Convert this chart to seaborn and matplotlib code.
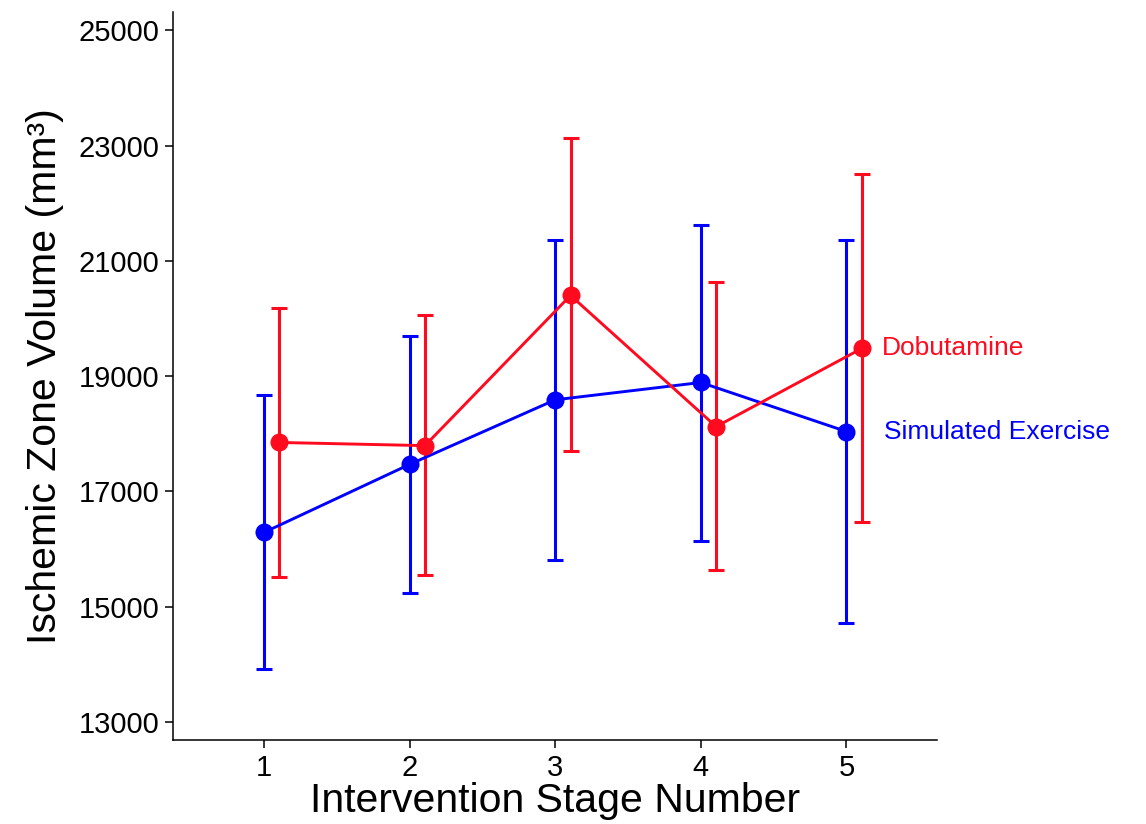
import matplotlib
matplotlib.use("Agg")
import matplotlib.pyplot as plt
import seaborn as sns
import pandas as pd
import numpy as np

stages = [1, 2, 3, 4, 5]

exercise_mean = [16290, 17470, 18590, 18890, 18040]
exercise_low = [13915, 15235, 15810, 16145, 14710]
exercise_high = [18670, 19700, 21360, 21630, 21370]

dobutamine_mean = [17850, 17795, 20400, 18125, 19480]
dobutamine_low = [15510, 15545, 17700, 15630, 16465]
dobutamine_high = [20190, 20055, 23130, 20630, 22515]

series_names = ["Simulated Exercise", "Dobutamine"]
yticks = [13000, 15000, 17000, 19000, 21000, 23000, 25000]

BLUE = "#0000ff"
RED = "#ff0a1e"

sns.set_theme(style="ticks")
plt.rcParams['font.family'] = ['Liberation Sans', 'DejaVu Sans']

fig = plt.figure(figsize=(11.46, 8.24), dpi=100)
ax = fig.add_axes([0.151, 0.102, 0.667, 0.883])

offsets = {"Simulated Exercise": 0.0, "Dobutamine": 0.105}
colors = {"Simulated Exercise": BLUE, "Dobutamine": RED}
data = {
    "Simulated Exercise": (exercise_mean, exercise_low, exercise_high),
    "Dobutamine": (dobutamine_mean, dobutamine_low, dobutamine_high),
}

for name in series_names:
    mean, low, high = data[name]
    df = pd.DataFrame({"x": np.array(stages) + offsets[name], "y": mean,
                       "low": low, "high": high})
    col = colors[name]
    ax.errorbar(df["x"], df["y"],
                yerr=[df["y"] - df["low"], df["high"] - df["y"]],
                fmt="none", ecolor=col, elinewidth=2.2, capsize=6,
                capthick=2.2, zorder=2)
    sns.lineplot(data=df, x="x", y="y", ax=ax, color=col, linewidth=2.1,
                 marker="o", markersize=13, markeredgewidth=0,
                 markeredgecolor=col, zorder=3)

ax.text(5.0 + offsets["Dobutamine"] + 0.14, dobutamine_mean[-1], "Dobutamine",
        color=RED, fontsize=19, ha="left", va="center")
ax.text(5.0 + 0.26, exercise_mean[-1], "Simulated Exercise",
        color=BLUE, fontsize=19, ha="left", va="center")

ax.set_xlim(0.375, 5.625)
ax.set_ylim(12690, 25310)
ax.set_xticks(stages)
ax.set_xticklabels([str(s) for s in stages])
ax.set_yticks(yticks)
ax.set_yticklabels([str(t) for t in yticks])
ax.tick_params(axis="both", labelsize=21, length=6, width=1.1, color="black",
               labelcolor="black", pad=4)
for s in ["top", "right"]:
    ax.spines[s].set_visible(False)
for s in ["left", "bottom"]:
    ax.spines[s].set_color("black")
    ax.spines[s].set_linewidth(1.1)

ax.set_xlabel("Intervention Stage Number", fontsize=29.5, color="black", labelpad=0)
ax.set_ylabel("Ischemic Zone Volume (mm³)", fontsize=29.5, color="black", labelpad=10)
ax.grid(False)
ax.set_facecolor("white")
fig.patch.set_facecolor("white")

fig.savefig("out.png", dpi=100)
